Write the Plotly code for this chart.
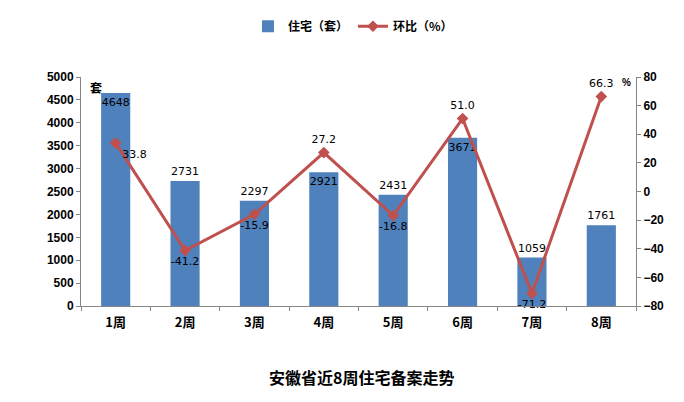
import plotly.graph_objects as go

weeks = ["1周", "2周", "3周", "4周", "5周", "6周", "7周", "8周"]
housing = [4648, 2731, 2297, 2921, 2431, 3671, 1059, 1761]
ratio = [33.8, -41.2, -15.9, 27.2, -16.8, 51.0, -71.2, 66.3]
ratio_labels = ["33.8", "-41.2", "-15.9", "27.2", "-16.8", "51.0", "-71.2", "66.3"]
bar_pos = ["inside", "outside", "outside", "inside", "outside", "inside", "outside", "outside"]
line_pos = ["bottom right", "bottom center", "bottom center", "top center",
            "bottom center", "top center", "bottom center", "top center"]

BAR = "#4F81BD"
LINE = "#C0504D"
NUMFONT = dict(family="DejaVu Sans", size=11, color="#000000")
BOLD = "Noto Sans CJK SC"

fig = go.Figure()
fig.add_trace(go.Bar(
    x=weeks, y=housing, name="住宅（套）", marker=dict(color=BAR, line=dict(width=0)),
    text=[str(v) for v in housing], textposition=bar_pos, insidetextanchor="end",
    textangle=0, constraintext="none",
    textfont=NUMFONT, outsidetextfont=NUMFONT, insidetextfont=NUMFONT,
    width=0.42, cliponaxis=False, yaxis="y"))
fig.add_trace(go.Scatter(
    x=weeks, y=ratio, name="环比（%）", mode="lines+markers+text",
    line=dict(color=LINE, width=3), marker=dict(symbol="diamond", size=9, color=LINE),
    text=ratio_labels, textposition=line_pos, textfont=NUMFONT,
    cliponaxis=False, yaxis="y2"))

fig.update_layout(
    width=684, height=402,
    margin=dict(l=81, r=48, t=74, b=96),
    plot_bgcolor="white", paper_bgcolor="white",
    showlegend=True,
    legend=dict(orientation="h", x=0.49, xanchor="center", y=1.285, yanchor="top",
                font=dict(family=BOLD, size=12, color="#000000", weight="bold"),
                itemwidth=30, traceorder="normal"),
    xaxis=dict(type="category", showline=True, linecolor="#868686", linewidth=1,
               ticks="outside", tickson="boundaries", ticklen=4, tickcolor="#868686",
               ticklabelstandoff=4,
               tickfont=dict(family=BOLD, size=13, color="#000000", weight="bold"),
               showgrid=False),
    yaxis=dict(range=[0, 5000], dtick=500, showline=True, linecolor="#868686",
               ticks="outside", ticklen=4, tickcolor="#868686", showgrid=False,
               zeroline=False, tickfont=dict(family="Liberation Sans", size=12,
                                             color="#000000", weight="bold")),
    yaxis2=dict(range=[-80, 80], dtick=20, overlaying="y", side="right", showline=True,
                linecolor="#868686", ticks="outside", ticklen=4, tickcolor="#868686",
                showgrid=False, zeroline=False,
                tickfont=dict(family="Liberation Sans", size=12, color="#000000",
                              weight="bold")),
    bargap=0.58,
)
fig.add_annotation(text="套", xref="paper", yref="paper", x=0.012, y=1.0, xanchor="left",
                   yanchor="top", showarrow=False,
                   font=dict(family=BOLD, size=12, color="#000000", weight="bold"))
fig.add_annotation(text="%", xref="paper", yref="paper", x=0.994, y=1.01, xanchor="right",
                   yanchor="top", showarrow=False,
                   font=dict(family="Liberation Sans", size=10, color="#000000", weight="bold"))
fig.add_annotation(text="安徽省近8周住宅备案走势", xref="paper", yref="paper", x=0.505, y=-0.25,
                   xanchor="center", yanchor="top", showarrow=False,
                   font=dict(family=BOLD, size=16, color="#000000", weight="bold"))
fig.write_html("out.html")
